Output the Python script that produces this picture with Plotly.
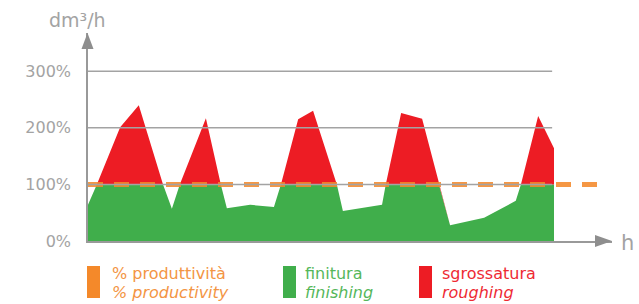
import plotly.graph_objects as go

# ---- data (time in h, values in % of nominal productivity) ----
hours = [0.00, 0.19, 0.69, 1.09, 1.61, 1.80, 1.97, 2.53, 2.85, 2.98, 3.48, 3.99, 4.14,
         4.51, 4.83, 5.34, 5.47, 6.31, 6.39, 6.72, 7.17, 7.53, 7.77, 8.50, 9.18, 9.29,
         9.66, 10.00]
finishing = [64, 100, 100, 100, 100, 57, 100, 100, 100, 58, 64, 60, 100,
             100, 100, 100, 53, 64, 100, 100, 100, 100, 28, 41, 71, 100,
             100, 100]
roughing_top = [64, 100, 201, 240, 100, 57, 100, 217, 100, 58, 64, 60, 100,
                215, 230, 100, 53, 64, 100, 226, 216, 100, 28, 41, 71, 100,
                221, 164]
productivity_x = [0.0, 10.99]
productivity_y = [100, 100]
grid_vals = [100, 200, 300]
tick_vals = [0, 100, 200, 300]
tick_text = ["0%", "100%", "200%", "300%"]

GREEN = "#40AE4B"
RED = "#ED1C24"
ORANGE = "#F4892A"
GRAY = "#A3A3A3"
FONT = "DejaVu Sans"

W, H = 639, 304
L, R, T, B = 88, 612, 33, 241  # plot area in pixels


def px(x):
    return (x - L) / (R - L)


def py(y):
    return (B - y) / (B - T)


fig = go.Figure()
fig.add_trace(go.Scatter(x=hours, y=finishing, mode="lines", line=dict(width=0, color=GREEN),
                         fill="tozeroy", fillcolor=GREEN, name="finitura", hoverinfo="skip"))
fig.add_trace(go.Scatter(x=hours, y=roughing_top, mode="lines", line=dict(width=0, color=RED),
                         fill="tonexty", fillcolor=RED, name="sgrossatura", hoverinfo="skip"))
fig.add_trace(go.Scatter(x=productivity_x, y=productivity_y, mode="lines",
                         line=dict(width=5, color="rgba(244,137,42,0.88)", dash="15px,11px"),
                         name="% produttività", hoverinfo="skip"))

shapes = []
for g in grid_vals:
    shapes.append(dict(type="line", xref="x", yref="y", x0=0, x1=9.96, y0=g, y1=g,
                       line=dict(color=GRAY, width=1.5), layer="above"))

# axis arrowheads
shapes.append(dict(type="path", xref="paper", yref="paper",
                   path=f"M {px(612)} {py(241)} L {px(595)} {py(235)} L {px(595)} {py(247)} Z",
                   fillcolor="#8E8E8E", line=dict(width=0)))
shapes.append(dict(type="path", xref="paper", yref="paper",
                   path=f"M {px(87.5)} {py(33)} L {px(81.5)} {py(49)} L {px(93.5)} {py(49)} Z",
                   fillcolor="#8E8E8E", line=dict(width=0)))

# legend swatches
for x0, c in [(87, ORANGE), (283, GREEN), (419, RED)]:
    shapes.append(dict(type="rect", xref="paper", yref="paper",
                       x0=px(x0), x1=px(x0 + 13), y0=py(298), y1=py(266),
                       fillcolor=c, line=dict(width=0)))

ann = []
legend_items = [(110, "% produttività", "% productivity", "#F39544"),
                (303, "finitura", "finishing", "#55B75B"),
                (440, "sgrossatura", "roughing", "#EE2A33")]
for x0, it, en, c in legend_items:
    ann.append(dict(xref="paper", yref="paper", x=px(x0), y=py(273), text=it, showarrow=False,
                    xanchor="left", yanchor="middle", font=dict(family=FONT, size=16, color=c)))
    ann.append(dict(xref="paper", yref="paper", x=px(x0), y=py(292), text=en, showarrow=False,
                    xanchor="left", yanchor="middle",
                    font=dict(family=FONT, size=16, color=c, style="italic")))

ann.append(dict(xref="paper", yref="paper", x=px(47), y=py(20), text="dm³/h", showarrow=False,
                xanchor="left", yanchor="middle", font=dict(family=FONT, size=19, color=GRAY)))
ann.append(dict(xref="paper", yref="paper", x=px(619), y=py(243), text="h", showarrow=False,
                xanchor="left", yanchor="middle", font=dict(family=FONT, size=21, color=GRAY)))

fig.update_layout(
    width=W, height=H,
    margin=dict(l=L, r=W - R, t=T, b=H - B, pad=0),
    plot_bgcolor="white", paper_bgcolor="white",
    showlegend=False,
    shapes=shapes, annotations=ann,
    xaxis=dict(range=[0, (R - L) / 46.6], showgrid=False, zeroline=False, showticklabels=False,
               showline=True, linecolor="#999999", linewidth=1.5, fixedrange=True),
    yaxis=dict(range=[0, (B - T) / 0.566], showgrid=False, zeroline=False,
               tickvals=tick_vals, ticktext=tick_text, ticks="",
               tickfont=dict(family=FONT, size=16, color=GRAY), ticklabelstandoff=12,
               showline=True, linecolor="#999999", linewidth=1.5, fixedrange=True),
)

fig.write_html("out.html", config={"displayModeBar": False},
               post_script="document.body.style.margin='0';document.body.style.overflow='hidden';")
